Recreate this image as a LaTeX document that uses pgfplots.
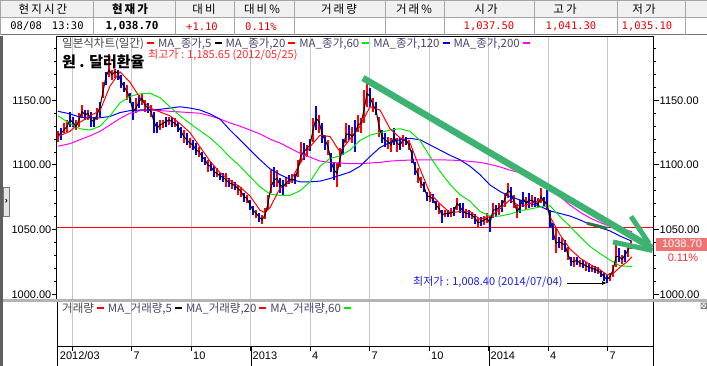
\documentclass[border=0pt]{standalone}
\usepackage{pgfplots}
\pgfplotsset{compat=1.18}
\usepackage{pgfplotstable}
\usetikzlibrary{arrows.meta}
\usepackage{fontspec}
\setmainfont{Liberation Sans}
\newfontfamily\kr{Noto Sans CJK KR}
\newfontfamily\krsp[LetterSpace=18]{Noto Sans CJK KR}
\newfontfamily\mono{DejaVu Sans Mono}
\definecolor{cRed}{RGB}{255,0,0}
\definecolor{cBlue}{RGB}{0,0,255}
\definecolor{cGreen}{RGB}{0,235,0}
\definecolor{cMag}{RGB}{255,0,255}
\definecolor{grd}{RGB}{200,200,200}
\definecolor{arrowgreen}{RGB}{60,179,113}
\definecolor{darkgreen}{RGB}{35,125,60}
\definecolor{hdrgray}{RGB}{240,240,240}
\definecolor{hdrline}{RGB}{165,165,165}
\definecolor{hdrdark}{RGB}{120,120,120}
\definecolor{hdrred}{RGB}{235,0,0}
\definecolor{legA}{RGB}{70,70,70}
\definecolor{legB}{RGB}{70,70,110}
\definecolor{pricebox}{RGB}{240,115,115}
\definecolor{maxred}{RGB}{255,45,45}
\definecolor{minblue}{RGB}{30,30,230}
\definecolor{sepgray}{RGB}{180,180,180}
\definecolor{stripgray}{RGB}{95,95,95}
\definecolor{tabfill}{RGB}{228,228,228}
\definecolor{tabdraw}{RGB}{120,120,120}
\newcommand\ldash[1]{\textcolor{#1}{\rule[3pt]{7pt}{2.6pt}}}

\pgfplotstableread{
lo hi cl u
1118.1 1126.3 1123.2 1
1119.3 1128.4 1124.5 0
1124.5 1132.2 1127.1 1
1125.8 1134.8 1129.7 1
1129.7 1141.3 1134.8 0
1129.7 1137.4 1133.0 0
1127.1 1134.8 1129.7 1
1129.7 1140.0 1134.8 1
1136.1 1146.4 1141.3 1
1134.8 1142.5 1138.7 0
1134.8 1142.5 1140.0 1
1129.7 1141.3 1134.8 0
1129.7 1137.4 1133.5 0
1134.8 1143.8 1138.7 1
1137.4 1149.0 1145.1 0
1151.6 1164.5 1156.7 1
1161.9 1172.2 1168.3 0
1168.3 1185.6 1173.5 1
1165.7 1173.5 1169.6 1
1167.0 1174.2 1172.2 1
1165.7 1173.5 1170.9 0
1159.3 1169.6 1164.5 0
1156.7 1164.5 1160.6 0
1150.3 1161.9 1156.7 1
1147.7 1155.4 1151.6 0
1134.8 1149.0 1141.3 0
1140.0 1151.6 1143.8 1
1143.8 1154.1 1149.0 0
1146.4 1155.4 1151.6 1
1141.3 1150.3 1146.4 1
1140.0 1147.7 1143.8 0
1137.4 1146.4 1141.3 1
1124.5 1141.3 1133.5 0
1124.5 1133.5 1128.4 0
1127.1 1134.8 1131.0 1
1128.4 1134.8 1132.2 1
1129.7 1137.4 1133.5 0
1131.0 1137.4 1134.8 1
1129.7 1137.4 1133.5 0
1129.7 1136.1 1132.2 1
1125.8 1133.5 1129.7 0
1120.6 1129.7 1125.8 0
1116.8 1127.1 1121.9 1
1115.5 1124.5 1119.3 0
1112.9 1120.6 1116.8 1
1111.6 1119.3 1115.5 0
1107.8 1116.8 1111.6 0
1106.5 1114.2 1110.3 1
1102.6 1110.3 1106.5 0
1100.0 1106.5 1103.9 0
1094.9 1103.9 1100.0 1
1095.4 1102.6 1098.7 0
1091.0 1099.2 1094.8 0
1090.5 1097.4 1093.5 1
1088.4 1094.1 1091.5 0
1087.1 1093.5 1090.5 0
1083.2 1093.5 1088.4 1
1082.7 1089.7 1086.3 0
1081.2 1088.4 1085.3 1
1080.7 1087.1 1083.8 0
1076.8 1084.5 1081.9 1
1075.5 1083.2 1079.4 1
1071.6 1078.1 1075.5 0
1070.9 1076.8 1074.2 1
1065.2 1072.9 1069.1 0
1061.3 1068.3 1065.2 0
1058.8 1065.2 1062.6 1
1056.2 1063.1 1060.0 0
1054.4 1061.3 1057.5 1
1058.0 1066.5 1061.3 1
1065.2 1076.8 1070.3 1
1078.1 1096.1 1083.2 1
1083.2 1098.2 1088.4 0
1082.7 1096.1 1089.7 1
1078.1 1089.7 1084.5 0
1076.8 1088.4 1083.2 0
1082.7 1090.5 1085.8 1
1085.3 1092.3 1088.4 0
1085.8 1093.0 1088.9 1
1085.3 1093.0 1088.4 0
1091.0 1103.9 1097.4 1
1102.6 1118.0 1107.7 1
1103.9 1116.7 1110.3 0
1106.5 1115.4 1112.9 1
1111.1 1119.8 1115.4 0
1118.0 1136.1 1127.0 1
1127.0 1145.6 1136.1 0
1124.5 1138.6 1133.5 1
1116.7 1132.2 1124.5 0
1111.6 1123.2 1119.3 0
1107.7 1119.3 1114.2 1
1094.8 1109.0 1102.6 0
1088.4 1102.6 1096.1 0
1083.2 1101.3 1093.5 1
1098.7 1112.9 1105.1 1
1107.7 1119.8 1114.2 0
1116.7 1132.2 1123.2 1
1119.3 1130.9 1124.5 0
1116.7 1129.6 1121.9 1
1110.3 1134.8 1124.5 0
1125.8 1138.6 1130.9 1
1124.4 1136.0 1132.2 1
1132.2 1157.9 1142.5 1
1145.1 1163.1 1155.4 1
1145.1 1159.2 1152.8 0
1141.2 1151.5 1146.3 1
1138.6 1148.9 1142.5 0
1121.9 1137.3 1129.6 1
1116.7 1127.0 1121.9 0
1114.1 1124.4 1119.3 0
1112.1 1121.9 1118.0 1
1110.3 1120.6 1115.4 1
1115.4 1128.3 1121.9 0
1110.3 1120.6 1116.7 1
1111.6 1120.6 1115.4 0
1114.1 1123.1 1119.3 1
1115.4 1121.9 1119.3 0
1111.6 1119.3 1115.4 1
1101.2 1111.6 1107.7 0
1092.2 1102.5 1097.4 0
1085.8 1097.4 1092.2 1
1081.9 1090.9 1085.8 1
1079.3 1087.1 1083.2 0
1072.4 1079.3 1076.0 0
1071.6 1079.3 1075.5 1
1070.3 1077.5 1073.4 0
1065.2 1072.4 1069.0 0
1062.1 1070.3 1066.5 1
1054.9 1065.2 1061.3 0
1059.5 1065.2 1062.6 1
1059.5 1065.2 1062.1 0
1060.0 1066.5 1063.1 1
1060.5 1067.7 1063.9 0
1065.2 1074.2 1070.3 1
1063.1 1070.8 1067.7 0
1058.7 1070.3 1063.9 0
1058.7 1065.7 1062.6 1
1058.7 1065.2 1062.1 0
1057.9 1063.9 1061.3 1
1054.3 1062.1 1058.7 0
1052.3 1058.7 1055.4 1
1052.8 1059.5 1056.1 0
1053.6 1060.5 1057.4 1
1054.9 1062.6 1058.7 1
1048.4 1060.0 1054.9 0
1058.7 1070.8 1065.2 1
1060.0 1069.0 1065.2 0
1061.3 1070.3 1067.2 1
1063.9 1072.9 1069.0 0
1067.7 1078.6 1074.2 1
1074.2 1085.8 1080.6 1
1070.3 1083.2 1078.0 0
1066.4 1076.7 1071.6 1
1058.7 1069.0 1063.9 1
1062.6 1072.9 1067.7 0
1067.7 1079.3 1074.2 0
1065.1 1075.5 1070.3 1
1066.4 1078.0 1072.9 0
1067.7 1076.7 1072.4 1
1067.7 1075.5 1071.6 0
1066.4 1074.2 1069.0 1
1070.3 1081.9 1075.5 1
1067.7 1075.5 1071.6 0
1065.1 1080.6 1070.3 0
1051.0 1065.1 1058.7 0
1042.0 1054.8 1048.4 0
1031.6 1051.0 1039.4 1
1035.5 1044.5 1040.7 0
1034.2 1043.2 1039.4 1
1032.9 1042.0 1038.1 0
1026.5 1036.8 1030.4 1
1021.9 1029.1 1025.2 0
1021.3 1029.1 1025.2 1
1022.6 1029.1 1026.5 0
1020.8 1026.5 1023.9 1
1020.0 1026.5 1023.4 0
1018.2 1025.2 1021.9 1
1017.5 1023.9 1020.8 0
1017.5 1022.6 1020.0 1
1016.2 1021.9 1019.3 0
1015.7 1020.8 1018.2 1
1013.6 1018.8 1016.2 0
1010.5 1016.2 1013.6 0
1008.4 1014.9 1011.5 0
1010.5 1016.2 1013.6 1
1013.6 1022.6 1018.8 1
1021.3 1038.1 1029.1 1
1025.2 1035.5 1029.1 0
1023.4 1030.4 1027.0 1
1025.2 1034.2 1030.4 0
1029.1 1038.1 1034.2 1
1034.7 1041.3 1038.7 1
}\candles

\pgfplotstableread{
m v
2.268 1122
2.873 1126
3.378 1133
3.882 1138
4.386 1142
4.891 1161
5.395 1172
5.899 1164
6.403 1152
6.908 1144
7.412 1141
7.916 1138
8.421 1132
8.925 1125
9.429 1114
9.933 1103
10.438 1094
10.942 1088
11.446 1083
11.951 1076
12.455 1065
12.707 1063
12.959 1067
13.463 1082
13.968 1087
14.472 1101
14.976 1114
15.481 1123
15.985 1122
16.489 1110
16.993 1120
17.498 1130
18.002 1145
18.506 1142.5
19.011 1128
19.515 1121
20.019 1117
20.524 1097
21.028 1078
21.532 1070
22.036 1063
22.541 1064
23.045 1064
23.549 1058
24.054 1060
24.558 1066
25.062 1073
25.567 1068
26.071 1070
26.575 1073
26.827 1072
27.079 1060
27.584 1046
28.088 1035
28.592 1028
29.097 1023
29.601 1019
29.954 1015
30.257 1016
30.610 1021
30.962 1025
31.215 1029
}\maTwenty

\pgfplotstableread{
m v
2.268 1138
2.873 1132
3.378 1128
3.882 1127
4.386 1130
4.891 1138
5.395 1148
5.899 1153
6.403 1155
6.908 1155.5
7.412 1152
7.916 1145
8.421 1138
8.925 1132
9.429 1126.5
9.933 1121
10.438 1114
10.942 1106
11.446 1099
11.951 1091
12.455 1083
12.959 1077.5
13.463 1076.5
13.968 1076.5
14.472 1080
14.976 1087
15.481 1099
15.985 1105
16.489 1107
16.993 1111.5
17.498 1119
18.002 1123
18.506 1125
19.011 1127
19.515 1128
20.019 1126
20.524 1119
21.028 1106.5
21.532 1095
22.036 1085
22.541 1077
23.045 1072
23.549 1064
24.054 1060.5
24.558 1060.5
25.062 1062
25.567 1064.5
26.071 1066
26.575 1067.5
27.079 1068.5
27.584 1060
28.088 1052.5
28.592 1044.5
29.097 1037
29.601 1031.5
30.105 1026.5
30.610 1022
31.215 1021.5
}\maSixty

\pgfplotstableread{
m v
2.268 1141.5
2.873 1139.5
3.378 1137
3.882 1136.5
4.386 1136.5
4.891 1137.5
5.395 1140.5
5.899 1142
6.403 1142.5
6.908 1142.5
7.412 1143
7.916 1144
8.421 1145
8.925 1144
9.429 1142.5
9.933 1139.5
10.438 1135.5
10.942 1127
11.446 1119.4
11.951 1111.6
12.455 1104
12.959 1097
13.463 1092.5
13.968 1089
14.472 1087
14.976 1087
15.481 1087.5
15.985 1089.5
16.489 1092
16.993 1094.5
17.498 1099
18.002 1106.5
18.506 1113.5
19.011 1117.5
19.515 1119.5
20.019 1120.6
20.524 1119.5
21.028 1115.5
21.532 1111.5
22.036 1107.5
22.541 1104
23.045 1099
23.549 1092.5
24.054 1084.5
24.558 1079.5
25.062 1075.5
25.567 1073
26.071 1070.5
26.575 1068
27.079 1064.5
27.584 1062.5
28.088 1060.5
28.592 1057.5
29.097 1054
29.601 1051.5
30.105 1049
30.610 1045
31.215 1041
}\maOneTwenty

\pgfplotstableread{
m v
2.268 1114.5
2.873 1116.5
3.378 1119.5
3.882 1122.5
4.386 1126
4.891 1131
5.395 1136
5.899 1140
6.403 1142
6.908 1142.5
7.412 1142
7.916 1141.5
8.421 1141
8.925 1140.5
9.429 1140
9.933 1138
10.438 1135.5
10.942 1132.5
11.446 1130
11.951 1127
12.455 1124
12.959 1120
13.463 1117
13.968 1113
14.472 1109
14.976 1106
15.481 1103
15.985 1102
16.489 1101.5
16.993 1101
17.498 1101
18.002 1101.5
18.506 1102
19.011 1103
19.515 1103.5
20.524 1104
21.532 1104
22.541 1103.5
23.549 1102
24.054 1100.5
24.558 1098.5
25.062 1096
25.567 1094
26.071 1091.5
26.575 1087.5
27.079 1083
27.584 1075.5
28.088 1069
28.592 1063.5
29.097 1059
29.601 1055.5
30.105 1052.5
30.610 1050.5
31.215 1048.5
}\maTwoHundred

\begin{document}
\begin{tikzpicture}[x=1pt,y=1pt]
\useasboundingbox (0,0) rectangle (707,366);
\fill[white] (0,0) rectangle (707,366);

% ---------- header table ----------
\fill[hdrgray] (0,348) rectangle (707,366);
\draw[hdrline, line width=1pt] (0,365.5) -- (707,365.5);
\draw[hdrline, line width=1pt] (0,348) -- (707,348);
\draw[hdrdark, line width=1pt] (0,331) -- (707,331);
\foreach \xx in {0.5,93,175,234,294,385,444,534,617,685}
  \draw[hdrline, line width=1pt] (\xx,331) -- (\xx,366);
\begin{scope}[every node/.style={inner sep=0pt, font=\krsp\fontsize{11.5}{13}\selectfont}]
\node at (43,357) {현지시간};
\node[font=\krsp\bfseries\fontsize{11.5}{13}\selectfont] at (130,357) {현재가};
\node at (204,357) {대비};
\node at (262,357) {대비\%};
\node at (339,357) {거래량};
\node at (414,357) {거래\%};
\node at (486,357) {시가};
\node at (565,357) {고가};
\node at (644,357) {저가};
\end{scope}
\begin{scope}[every node/.style={inner sep=0pt, font=\mono\fontsize{10.5}{12}\selectfont}]
\node at (47,339.5) {08/08\hspace{10pt}13:30};
\node[font=\mono\bfseries\fontsize{11}{12}\selectfont] at (132,339.5) {1,038.70};
\node[text=hdrred] at (202,339.5) {+1.10};
\node[text=hdrred] at (261,339.5) {0.11\%};
\node[text=hdrred] at (489,339.5) {1,037.50};
\node[text=hdrred] at (571,339.5) {1,041.30};
\node[text=hdrred] at (647,339.5) {1,035.10};
\end{scope}

% ---------- main price pane ----------
\begin{axis}[
  at={(57pt,66pt)}, anchor=south west,
  scale only axis, width=596pt, height=263pt,
  xmin=2.218, xmax=32.273, ymin=995.59, ymax=1198.95,
  axis line style={black, line width=1pt},
  xtick={3,6,...,30}, xticklabels={}, xtick style={draw=none},
  xmajorgrids, major grid style={draw=grd, line width=1pt},
  ytick={1000,1050,1100,1150}, minor ytick={1000,1010,...,1190},
  ytick pos=left, tick align=outside,
  major tick length=5pt, minor tick length=3pt,
  ytick style={black, line width=1pt},
  scaled y ticks=false,
  yticklabel style={/pgf/number format/fixed, /pgf/number format/fixed zerofill,
    /pgf/number format/precision=2, /pgf/number format/1000 sep={},
    /pgf/number format/assume math mode=true,
    font=\fontsize{11}{12}\selectfont, inner sep=0.5pt},
]
\addplot[cRed, line width=1pt] coordinates {(2.218,1051.5) (32.273,1051.5)};
\addplot[draw=none, mark=none, forget plot,
  restrict expr to domain={\thisrow{u}}{0.5:1.5},
  error bars/.cd, y dir=plus, y explicit, error mark=none,
  error bar style={draw=cRed, line width=1.4pt}]
  table[x expr=2.268+0.1513*\coordindex, y=lo, y error expr=\thisrow{hi}-\thisrow{lo}] {\candles};
\addplot[draw=none, mark=none, forget plot,
  restrict expr to domain={\thisrow{u}}{-0.5:0.5},
  error bars/.cd, y dir=plus, y explicit, error mark=none,
  error bar style={draw=cBlue, line width=1.4pt}]
  table[x expr=2.268+0.1513*\coordindex, y=lo, y error expr=\thisrow{hi}-\thisrow{lo}] {\candles};
\addplot[cMag, line width=1pt] table[x=m, y=v] {\maTwoHundred};
\addplot[cBlue, line width=1pt] table[x=m, y=v] {\maOneTwenty};
\addplot[cGreen, line width=1pt] table[x=m, y=v] {\maSixty};
\addplot[cRed, line width=1pt] table[x=m, y=v] {\maTwenty};
\addplot[black, line width=1pt] table[x expr=2.268+0.1513*\coordindex, y=cl] {\candles};
\end{axis}

% right-hand price scale
\begin{axis}[
  at={(57pt,66pt)}, anchor=south west,
  scale only axis, width=596pt, height=263pt,
  xmin=2.218, xmax=32.273, ymin=995.59, ymax=1198.95,
  axis x line=none, axis y line*=right,
  axis line style={black, line width=1pt, -},
  ytick={1000,1050,1100,1150}, minor ytick={1000,1010,...,1190},
  tick align=outside, major tick length=6pt, minor tick length=3pt,
  ytick style={black, line width=1pt},
  scaled y ticks=false,
  yticklabel style={/pgf/number format/fixed, /pgf/number format/fixed zerofill,
    /pgf/number format/precision=2, /pgf/number format/1000 sep={},
    /pgf/number format/assume math mode=true,
    font=\fontsize{11}{12}\selectfont, inner sep=0.5pt, anchor=west},
]
\end{axis}

% ---------- volume pane with date axis ----------
\begin{axis}[
  at={(57pt,19.5pt)}, anchor=south west,
  scale only axis, width=596pt, height=45.5pt,
  xmin=2.218, xmax=32.273, ymin=0, ymax=1,
  axis line style={black, line width=1pt},
  ytick=\empty,
  xtick={3,6,...,30}, xticklabels={,7,10,2013,4,7,10,2014,4,7},
  xtick pos=bottom, tick align=outside, major tick length=5pt,
  xtick style={black, line width=1pt},
  xmajorgrids, major grid style={draw=grd, line width=1pt},
  extra x ticks={2.28}, extra x tick labels={2012/03},
  extra x tick style={grid=none, major tick length=0pt, xticklabel style={yshift=-5pt}},
  xticklabel style={anchor=north west, inner sep=0pt, xshift=1.5pt, font=\fontsize{11}{12}\selectfont},
]
\end{axis}

% ---------- overlays ----------
\fill[sepgray] (0,64) rectangle (707,66.5);
\draw[black, line width=1pt] (57,0) -- (57,19.5);
\draw[black, line width=1pt] (653,0) -- (653,19.5);
\draw[black, line width=1pt] (251,0) -- (251,19.5);
\draw[black, line width=1pt] (489,0) -- (489,19.5);
\fill[stripgray] (0,0) rectangle (3,330);
\filldraw[fill=tabfill, draw=tabdraw, line width=0.8pt] (3,150) rectangle (9.5,179);
\node[inner sep=0, font=\bfseries\fontsize{9}{10}\selectfont] at (6.3,164.5) {›};

% legends and titles
\node[anchor=west, inner sep=0, font=\kr\fontsize{11.5}{13}\selectfont] at (62,322.5) {\textcolor{legA}{일본식차트(일간)}\hspace{3pt}\ldash{cRed}\hspace{4pt}\textcolor{legB}{MA\_종가,5}\hspace{3pt}\ldash{black}\hspace{4pt}\textcolor{legB}{MA\_종가,20}\hspace{3pt}\ldash{cRed}\hspace{4pt}\textcolor{legB}{MA\_종가,60}\hspace{3pt}\ldash{cGreen}\hspace{4pt}\textcolor{legB}{MA\_종가,120}\hspace{3pt}\ldash{cBlue}\hspace{4pt}\textcolor{legB}{MA\_종가,200}\hspace{3pt}\ldash{cMag}};
\node[anchor=west, inner sep=0, font=\kr\bfseries\fontsize{15}{17}\selectfont] at (62,304) {원 . 달러환율};
\node[anchor=west, inner sep=0, text=maxred, font=\kr\fontsize{11}{13}\selectfont] at (148,310.5) {최고가 : 1,185.65 (2012/05/25)};
\node[anchor=west, inner sep=0, text=minblue, font=\kr\fontsize{11}{13}\selectfont] at (413,83.5) {최저가 : 1,008.40 (2014/07/04)};
\draw[black, line width=0.8pt, -{Latex[length=5pt,width=4pt]}] (567,83) -- (607,83);
\node[anchor=west, inner sep=0, font=\kr\fontsize{11.5}{13}\selectfont] at (62,57.5) {\textcolor{legA}{거래량}\hspace{3pt}\ldash{cRed}\hspace{4pt}\textcolor{legB}{MA\_거래량,5}\hspace{3pt}\ldash{black}\hspace{4pt}\textcolor{legB}{MA\_거래량,20}\hspace{3pt}\ldash{cRed}\hspace{4pt}\textcolor{legB}{MA\_거래량,60}\hspace{3pt}\ldash{cGreen}};
\draw[gray, line width=0.6pt] (701,57.5) rectangle (706.5,63) (701,57.5) -- (706.5,63) (701,63) -- (706.5,57.5);

% current price tag
\fill[pricebox] (656,115.3) rectangle (707,128.3);
\node[inner sep=0, text=white, font=\fontsize{11}{12}\selectfont] at (682,121.8) {1038.70};
\node[inner sep=0, text=maxred, font=\fontsize{11}{12}\selectfont] at (683,108) {0.11\%};

% hand-drawn trend arrow
\draw[arrowgreen, line width=6.5pt] (363,288) -- (652,118);
\draw[arrowgreen, line width=5pt] (631,149.5) -- (649,122.5);
\draw[arrowgreen, line width=5pt] (613,124) -- (652.5,115.5);
\draw[darkgreen, line width=3pt] (587,142.7) -- (607,137.7);
\end{tikzpicture}
\end{document}
